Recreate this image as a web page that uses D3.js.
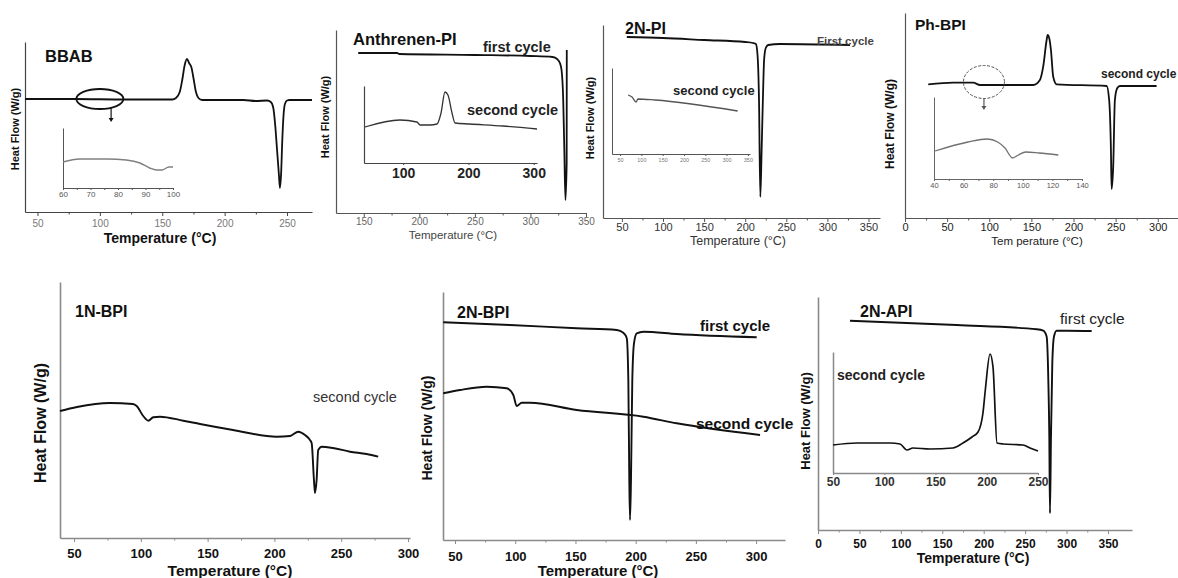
<!DOCTYPE html>
<html>
<head>
<meta charset="utf-8">
<script src="https://cdn.jsdelivr.net/npm/d3@7"></script>
<style>
  body { margin: 0; background: #fff; }
  svg { display: block; }
  text { font-family: "Liberation Sans", Arial, sans-serif; }
</style>
</head>
<body>
<svg id="fig" width="1178" height="578"></svg>
<script>
// ---- data (temperature in °C, heat flow in arbitrary units) ----
const bbabTemp = [40, 80, 120, 158, 161, 164, 166, 168, 169.8, 171.5, 173.5, 175, 177, 179, 182, 215, 225, 234, 237, 239, 240.5, 242, 243.5, 244.3, 245.2, 246.2, 247.2, 248.3, 250, 252, 270];
const bbabHeat = [113, 113, 112.5, 112.5, 114, 120, 132, 147, 153, 149, 144, 134, 120, 114, 112, 112, 111, 111.5, 110, 104, 87, 62, 37, 24, 37, 72, 97, 108, 111.5, 112, 112];
const bbabInsetTemp = [60, 66, 76, 83, 88, 91.5, 94, 96, 98.5, 100];
const bbabInsetHeat = [26, 29, 29, 28, 25, 20, 18, 18, 21, 21];

const anthFirstTemp = [145, 180, 182, 250, 300, 320, 324, 326.5, 328, 329.5, 330.5, 331.5, 332.6, 332.7];
const anthFirstHeat = [160, 160, 159, 158, 157, 156, 154, 150, 143, 113, 63, 13, 50, 163];
const anthSecondTemp = [41.5, 95, 121, 126, 141, 151.8, 158, 164, 168.6, 174.8, 179.4, 202, 253, 305];
const anthSecondHeat = [36, 43, 41, 38, 38, 39, 50, 71, 68, 50, 40, 39, 37, 34];

const pi2nFirstTemp = [56, 100, 150, 200, 209.5, 213, 215, 216.8, 218.4, 220, 221.5, 223, 225, 228, 242, 327.5];
const pi2nFirstHeat = [181, 180, 178, 176, 175, 174, 163, 118, 21, 68, 118, 158, 170, 173, 174, 173];
const pi2nSecondTemp = [68.7, 78, 87.6, 92, 132, 326];
const pi2nSecondHeat = [59, 57, 52, 55, 54, 43];

const phSecondTemp = [27.6, 57.3, 81, 89, 152.2, 160.1, 164, 168.1, 169.3, 171.2, 173.2, 175.9, 180, 239.3, 242.3, 244.4, 245.2, 247.1, 249.1, 251.8, 255, 298.6];
const phSecondHeat = [133.7, 135.3, 135.3, 133, 133, 138, 151.3, 178, 183, 179.7, 168, 141.3, 133.7, 132, 118, 68, 29, 51.3, 118, 129.7, 132, 132];
const phInsetTemp = [40.7, 63, 76, 83, 88, 93, 97, 102, 111, 124];
const phInsetHeat = [28, 37, 40, 37, 31, 21, 24, 27, 26, 24];

const bpi1nSecondTemp = [39.5, 52.2, 76.9, 94.1, 96.9, 101.8, 105.6, 109.3, 114.3, 131.8, 144.3, 169, 201.7, 211.7, 217.9, 222.9, 226.6, 227.9, 229.6, 230.4, 231.6, 232.8, 235.4, 243.8, 256.6, 269, 277.7];
const bpi1nSecondHeat = [127, 131, 135, 134, 132, 122, 117.3, 120.7, 121.3, 117.3, 114, 108, 101.3, 102, 106.3, 103, 98, 94.7, 58, 45, 58, 88, 91.3, 90, 86.3, 84, 81.3];

const bpi2nFirstTemp = [40.2, 95.6, 151, 184.3, 189.7, 192.6, 193.9, 194.7, 195.3, 196.1, 197.2, 198.6, 200.9, 206.4, 234.1, 300.5];
const bpi2nFirstHeat = [217.7, 215, 211.7, 210, 207.3, 201.7, 160, 60, 20, 60, 160, 196.7, 206.7, 208.3, 206, 202.7];
const bpi2nSecondTemp = [40.2, 54.1, 76.3, 92.9, 98.4, 101.2, 105.4, 112.3, 151, 206.4, 234.1, 303.3];
const bpi2nSecondHeat = [146.7, 150, 153.3, 151.7, 145, 134, 137.3, 137.3, 130, 123.3, 116.7, 105];

const api2nFirstTemp = [38.6, 167.4, 264, 271.9, 276, 278, 279.2, 280, 281.2, 282.8, 284.8, 288, 300.2, 330.3];
const api2nFirstHeat = [209.3, 205, 200.7, 199.3, 193.3, 150, 93.3, 16.7, 93.3, 166.7, 193.3, 199.3, 199.3, 199];
const api2nSecondTemp = [50, 73.4, 105.6, 115.4, 122.2, 128, 144.6, 167, 176.8, 185.6, 191.5, 196.3, 198.6, 203.2, 206.1, 210, 215.9, 235.4, 242.2, 250];
const api2nSecondHeat = [28, 30, 30, 29, 23, 25, 24, 25, 30, 36, 41, 60, 83, 119, 106, 30, 29, 28, 25, 22];

// tick labels
const bbabTicks = [50, 100, 150, 200, 250];
const bbabInsetTicks = [60, 70, 80, 90, 100];
const anthTicks = [150, 200, 250, 300, 350];
const anthInsetTicks = [100, 200, 300];
const pi2nTicks = [50, 100, 150, 200, 250, 300, 350];
const pi2nInsetTicks = [50, 100, 150, 200, 250, 300, 350];
const phTicks = [0, 50, 100, 150, 200, 250, 300];
const phInsetTicks = [40, 60, 80, 100, 120, 140];
const bpi1nTicks = [50, 100, 150, 200, 250, 300];
const bpi2nTicks = [50, 100, 150, 200, 250, 300];
const api2nTicks = [0, 50, 100, 150, 200, 250, 300, 350];
const api2nInsetTicks = [50, 100, 150, 200, 250];

const mids = t => t.slice(1).map((d, i) => (d + t[i]) / 2);
const pts = (t, h) => t.map((d, i) => [d, h[i]]);

const svg = d3.select('#fig');

function axes(g, x, y, box, a) {
  const xa = g.append('g')
    .attr('transform', `translate(0,${box.b})`)
    .call(d3.axisBottom(x).tickValues(a.ticks).tickSize(a.tick || 4).tickSizeOuter(0).tickFormat(d3.format('d')));
  xa.select('.domain').attr('stroke', a.color).attr('stroke-width', a.width);
  xa.selectAll('.tick line').attr('stroke', a.color).attr('stroke-width', 1);
  xa.selectAll('.tick text')
    .attr('y', a.labelDy).attr('dy', 0)
    .attr('fill', a.labelColor)
    .style('font-size', a.labelSize + 'px')
    .style('font-weight', a.labelWeight || 'normal')
    .style('font-family', '"Liberation Sans", Arial, sans-serif');
  if (a.minor !== false) {
    const m = g.append('g')
      .attr('transform', `translate(0,${box.b})`)
      .call(d3.axisBottom(x).tickValues(mids(a.ticks)).tickSize(a.minorSize || 2.5).tickFormat(''));
    m.select('.domain').remove();
    m.selectAll('.tick line').attr('stroke', a.color);
  }
  const ya = g.append('g')
    .attr('transform', `translate(${box.l},0)`)
    .call(d3.axisLeft(y).tickValues([]).tickSizeOuter(0));
  ya.select('.domain').attr('stroke', a.color).attr('stroke-width', a.width);
}

function curve(g, x, y, s) {
  const line = d3.line().x(d => x(d[0])).y(d => y(d[1])).curve(d3.curveMonotoneX);
  g.append('path')
    .datum(pts(s.t, s.h))
    .attr('d', line)
    .attr('fill', 'none')
    .attr('stroke', s.color)
    .attr('stroke-width', s.width)
    .attr('stroke-linejoin', 'round');
}

function label(g, l) {
  const t = g.append('text')
    .attr('fill', l.color || '#111')
    .style('font-size', l.size + 'px')
    .style('font-weight', l.weight || 'bold')
    .text(l.text);
  if (l.rotate) {
    t.attr('transform', `translate(${l.x},${l.y}) rotate(-90)`)
      .attr('text-anchor', 'middle').attr('dominant-baseline', 'central');
  } else {
    t.attr('x', l.x).attr('y', l.y).attr('text-anchor', l.anchor || 'start');
  }
}

function drawPanel(p) {
  const g = svg.append('g');
  const x = d3.scaleLinear().domain(p.xDom).range([p.box.l, p.box.r]);
  const y = d3.scaleLinear().domain(p.yDom).range([p.box.b, p.box.t]);
  axes(g, x, y, p.box, p.axis);
  p.series.forEach(s => curve(g, x, y, s));
  if (p.inset) {
    const q = p.inset;
    const xi = d3.scaleLinear().domain(q.xDom).range([q.box.l, q.box.r]);
    const yi = d3.scaleLinear().domain(q.yDom).range([q.box.b, q.box.t]);
    axes(g, xi, yi, q.box, q.axis);
    q.series.forEach(s => curve(g, xi, yi, s));
  }
  if (p.ring) {
    const r = p.ring;
    g.append('ellipse')
      .attr('cx', x(r.at[0])).attr('cy', y(r.at[1]))
      .attr('rx', r.rx).attr('ry', r.ry)
      .attr('fill', 'none').attr('stroke', r.color).attr('stroke-width', r.width)
      .attr('stroke-dasharray', r.dash || null);
    const ax = x(r.arrow[0]), y0 = y(r.arrow[1]), y1 = y(r.arrow[2]);
    g.append('line').attr('x1', ax).attr('x2', ax).attr('y1', y0).attr('y2', y1 - 3)
      .attr('stroke', r.color).attr('stroke-width', 1.2);
    g.append('path')
      .attr('d', `M${ax - 2.5},${y1 - 4}L${ax + 2.5},${y1 - 4}L${ax},${y1}Z`)
      .attr('fill', r.color);
  }
  p.labels.forEach(l => label(g, l));
}

const topAxis = (ticks, extra) => Object.assign({ ticks, color: '#555', width: 1.2, labelColor: '#666', labelSize: 10, labelDy: 15 }, extra);
const lowAxis = (ticks, extra) => Object.assign({ ticks, color: '#8a8a8a', width: 1.6, labelColor: '#111', labelSize: 13, labelWeight: 'bold', labelDy: 20 }, extra);

const panels = [
  {
    box: { l: 25, r: 312, t: 42, b: 212 }, xDom: [40, 270], yDom: [0, 170],
    axis: topAxis(bbabTicks, { color: '#444', labelColor: '#777' }),
    series: [{ t: bbabTemp, h: bbabHeat, color: '#111', width: 1.8 }],
    inset: {
      box: { l: 63, r: 173, t: 128, b: 188 }, xDom: [60, 100], yDom: [0, 60],
      axis: { ticks: bbabInsetTicks, color: '#555', width: 1, tick: 2, minorSize: 2, labelColor: '#555', labelSize: 8, labelDy: 9 },
      series: [{ t: bbabInsetTemp, h: bbabInsetHeat, color: '#808080', width: 1.4 }]
    },
    ring: { at: [100, 113], rx: 23.5, ry: 10, color: '#111', width: 1.8, arrow: [109, 104, 90] },
    labels: [
      { text: 'BBAB', x: 45, y: 62, size: 16.5 },
      { text: 'Heat Flow (W/g)', x: 15, y: 129, size: 11, rotate: true },
      { text: 'Temperature (°C)', x: 160, y: 243, size: 14, anchor: 'middle' }
    ]
  },
  {
    box: { l: 336, r: 586, t: 30, b: 213 }, xDom: [125, 350], yDom: [0, 183],
    axis: topAxis(anthTicks, { labelDy: 12, labelColor: '#666' }),
    series: [{ t: anthFirstTemp, h: anthFirstHeat, color: '#111', width: 1.8 }],
    inset: {
      box: { l: 364, r: 537, t: 86, b: 163 }, xDom: [40, 305], yDom: [0, 77],
      axis: { ticks: anthInsetTicks, color: '#444', width: 1.2, tick: 2, minor: false, labelColor: '#222', labelSize: 14, labelWeight: 'bold', labelDy: 15 },
      series: [{ t: anthSecondTemp, h: anthSecondHeat, color: '#333', width: 1.3 }]
    },
    labels: [
      { text: 'Anthrenen-PI', x: 353, y: 45, size: 16.5 },
      { text: 'first cycle', x: 483, y: 52, size: 14.5, color: '#222' },
      { text: 'second cycle', x: 467, y: 115, size: 14.5, color: '#222' },
      { text: 'Heat Flow (W/g)', x: 325, y: 117, size: 11, rotate: true },
      { text: 'Temperature (°C)', x: 453, y: 239, size: 11.5, weight: 'normal', color: '#444', anchor: 'middle' }
    ]
  },
  {
    box: { l: 603, r: 880, t: 25, b: 218 }, xDom: [27, 364], yDom: [0, 193],
    axis: topAxis(pi2nTicks, { labelSize: 11, labelColor: '#333', labelDy: 13 }),
    series: [{ t: pi2nFirstTemp, h: pi2nFirstHeat, color: '#111', width: 1.8 }],
    inset: {
      box: { l: 612, r: 750, t: 68, b: 154 }, xDom: [31, 355], yDom: [0, 86],
      axis: { ticks: pi2nInsetTicks, color: '#555', width: 1, tick: 2, minor: false, labelColor: '#777', labelSize: 5.5, labelDy: 8 },
      series: [{ t: pi2nSecondTemp, h: pi2nSecondHeat, color: '#555', width: 1.3 }]
    },
    labels: [
      { text: '2N-PI', x: 625, y: 34, size: 16 },
      { text: 'First cycle', x: 817, y: 45, size: 11.5, color: '#444' },
      { text: 'second cycle', x: 673, y: 95, size: 13, color: '#222' },
      { text: 'Heat Flow (W/g)', x: 590, y: 118, size: 11, rotate: true },
      { text: 'Temperature (°C)', x: 738, y: 245, size: 12.5, weight: 'normal', color: '#333', anchor: 'middle' }
    ]
  },
  {
    box: { l: 905, r: 1178, t: 13, b: 218 }, xDom: [0, 324], yDom: [0, 205],
    axis: topAxis(phTicks, { labelSize: 11, labelColor: '#222', labelDy: 13 }),
    series: [{ t: phSecondTemp, h: phSecondHeat, color: '#111', width: 1.8 }],
    inset: {
      box: { l: 934, r: 1082, t: 97, b: 179 }, xDom: [40, 140], yDom: [0, 82],
      axis: { ticks: phInsetTicks, color: '#666', width: 1, tick: 2, minorSize: 2, labelColor: '#555', labelSize: 7.5, labelDy: 9 },
      series: [{ t: phInsetTemp, h: phInsetHeat, color: '#707070', width: 1.3 }]
    },
    ring: { at: [93.7, 136], rx: 20.5, ry: 16.5, color: '#555', width: 1, dash: '3,1.5', arrow: [93.7, 120, 108] },
    labels: [
      { text: 'Ph-BPI', x: 915, y: 30, size: 15.5 },
      { text: 'second cycle', x: 1101, y: 78, size: 12, color: '#222' },
      { text: 'Heat Flow (W/g)', x: 890, y: 124, size: 12, rotate: true },
      { text: 'Tem perature (°C)', x: 1037, y: 245, size: 11.5, weight: 'normal', color: '#222', anchor: 'middle' }
    ]
  },
  {
    box: { l: 60, r: 410, t: 282, b: 538 }, xDom: [39.5, 301.5], yDom: [0, 256],
    axis: lowAxis(bpi1nTicks, { labelDy: 20 }),
    series: [{ t: bpi1nSecondTemp, h: bpi1nSecondHeat, color: '#111', width: 1.9 }],
    labels: [
      { text: '1N-BPI', x: 75, y: 317, size: 16 },
      { text: 'second cycle', x: 313, y: 402, size: 14.5, weight: 'normal', color: '#333' },
      { text: 'Heat Flow (W/g)', x: 40, y: 423, size: 16, rotate: true },
      { text: 'Temperature (°C)', x: 230, y: 576, size: 15.5, anchor: 'middle' }
    ]
  },
  {
    box: { l: 443, r: 785, t: 292, b: 540 }, xDom: [40, 324], yDom: [0, 248],
    axis: lowAxis(bpi2nTicks, { labelDy: 21 }),
    series: [
      { t: bpi2nFirstTemp, h: bpi2nFirstHeat, color: '#111', width: 1.9 },
      { t: bpi2nSecondTemp, h: bpi2nSecondHeat, color: '#111', width: 1.9 }
    ],
    labels: [
      { text: '2N-BPI', x: 457, y: 318, size: 16 },
      { text: 'first cycle', x: 700, y: 331, size: 15 },
      { text: 'second cycle', x: 696, y: 429, size: 15.5 },
      { text: 'Heat Flow (W/g)', x: 427, y: 428, size: 14, rotate: true },
      { text: 'Temperature (°C)', x: 598, y: 576, size: 15, anchor: 'middle' }
    ]
  },
  {
    box: { l: 818, r: 1132, t: 297, b: 530 }, xDom: [0, 379], yDom: [0, 233],
    axis: lowAxis(api2nTicks, { labelSize: 12, labelDy: 18 }),
    series: [{ t: api2nFirstTemp, h: api2nFirstHeat, color: '#111', width: 1.9 }],
    inset: {
      box: { l: 833, r: 1038, t: 352, b: 473 }, xDom: [50, 250], yDom: [0, 121],
      axis: { ticks: api2nInsetTicks, color: '#888', width: 1.5, tick: 2, minor: false, labelColor: '#333', labelSize: 12, labelWeight: 'bold', labelDy: 13 },
      series: [{ t: api2nSecondTemp, h: api2nSecondHeat, color: '#111', width: 1.7 }]
    },
    labels: [
      { text: '2N-API', x: 860, y: 317, size: 16 },
      { text: 'first cycle', x: 1060, y: 324, size: 15.5, weight: 'normal', color: '#222' },
      { text: 'second cycle', x: 837, y: 380, size: 14, color: '#222' },
      { text: 'Heat Flow (W/g)', x: 805, y: 421, size: 13, rotate: true },
      { text: 'Temperature (°C)', x: 973, y: 563, size: 14, anchor: 'middle' }
    ]
  }
];

panels.forEach(drawPanel);
</script>
</body>
</html>
